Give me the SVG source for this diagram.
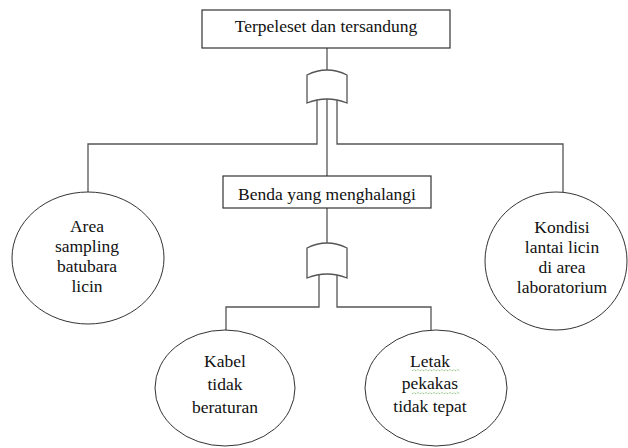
<svg xmlns="http://www.w3.org/2000/svg" width="628" height="448" viewBox="0 0 628 448">
<style>
.box{fill:#fff;stroke:#333;stroke-width:1.2}
.ell{fill:#fff;stroke:#333;stroke-width:1}
.gate{fill:#fff;stroke:#555;stroke-width:1.3}
.ln{fill:none;stroke:#555;stroke-width:1.3}
.t{font-family:"Liberation Serif","Times New Roman",serif;font-size:17.5px;fill:#111;text-anchor:middle}
.sq{fill:none;stroke:#6db35a;stroke-width:1;stroke-dasharray:1 1}
</style>
<rect width="628" height="448" fill="#fff"/>
<g id="connectors">
<path class="ln" d="M327 48V72"/>
<path class="ln" d="M317 100V144H88V192"/>
<path class="ln" d="M337 100V144H563V192"/>
<path class="ln" d="M327 99V176"/>
<path class="ln" d="M327 208V244"/>
<path class="ln" d="M319 274V307H226V330"/>
<path class="ln" d="M337 274V307H431V330"/>
</g>
<g id="gate1">
<path class="gate" d="M307 75Q327 65 347 75V103Q327 95 307 103Z"/>
</g>
<g id="gate2">
<path class="gate" d="M307 248Q327 238 347 248V278Q327 270 307 278Z"/>
</g>
<g id="top">
<rect class="box" x="202" y="10" width="248" height="38"/>
<text class="t" x="326" y="32">Terpeleset dan tersandung</text>
</g>
<g id="benda">
<rect class="box" x="223" y="176" width="208" height="32"/>
<text class="t" x="327" y="200">Benda yang menghalangi</text>
</g>
<g id="area">
<ellipse class="ell" cx="88" cy="258" rx="76" ry="66"/>
<text class="t" x="87" y="232">Area</text>
<text class="t" x="87" y="252">sampling</text>
<text class="t" x="87" y="272">batubara</text>
<text class="t" x="87" y="292">licin</text>
</g>
<g id="kondisi">
<ellipse class="ell" cx="556" cy="261" rx="71" ry="69"/>
<text class="t" x="562" y="233">Kondisi</text>
<text class="t" x="562" y="253">lantai licin</text>
<text class="t" x="562" y="273">di area</text>
<text class="t" x="562" y="293">laboratorium</text>
</g>
<g id="kabel">
<ellipse class="ell" cx="225" cy="388" rx="70" ry="58"/>
<text class="t" x="225" y="367">Kabel</text>
<text class="t" x="225" y="390">tidak</text>
<text class="t" x="225" y="413">beraturan</text>
</g>
<g id="letak">
<ellipse class="ell" cx="436" cy="388" rx="71" ry="58"/>
<text class="t" x="430" y="367">Letak</text>
<text class="t" x="430" y="389">pekakas</text>
<text class="t" x="430" y="412">tidak tepat</text>
<path class="sq" d="M412 371l2 -1.5l2 1.5l2 -1.5l2 1.5l2 -1.5l2 1.5l2 -1.5l2 1.5l2 -1.5l2 1.5l2 -1.5l2 1.5l2 -1.5l2 1.5l2 -1.5l2 1.5l2 -1.5l2 1.5l2 -1.5l2 1.5l2 -1.5l2 1.5l2 -1.5l2 1.5"/>
<path class="sq" d="M412 394l2 -1.5l2 1.5l2 -1.5l2 1.5l2 -1.5l2 1.5l2 -1.5l2 1.5l2 -1.5l2 1.5l2 -1.5l2 1.5l2 -1.5l2 1.5l2 -1.5l2 1.5l2 -1.5l2 1.5l2 -1.5l2 1.5l2 -1.5l2 1.5l2 -1.5l2 1.5"/>
</g>
</svg>
